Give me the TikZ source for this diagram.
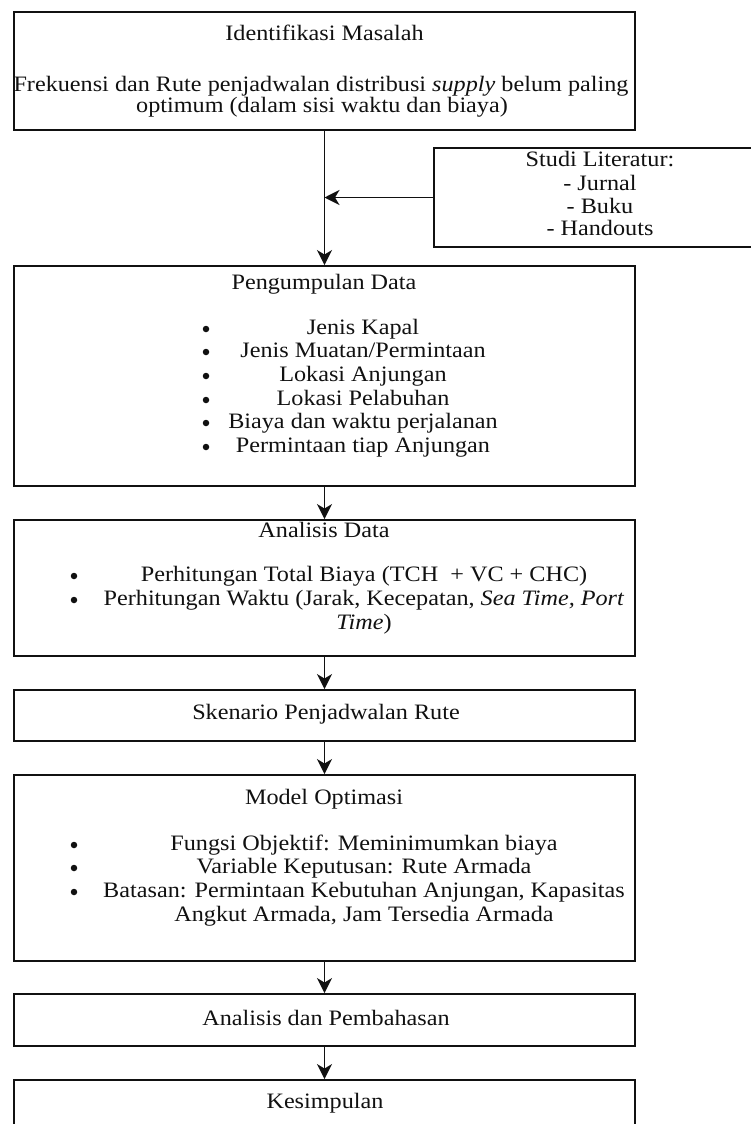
\documentclass[tikz,border=0pt]{standalone}
\usepackage{graphicx}
\usepackage{fontspec}
\setmainfont{Liberation Serif}
\usetikzlibrary{arrows.meta}
\definecolor{ink}{HTML}{111111}
% wide setting of the body text
\newcommand\wide[1]{\scalebox{1.1}[1]{#1}}
\tikzset{
  box/.style={draw=ink, line width=1.9pt, rectangle, inner sep=0pt, fill=white},
  txt/.style={inner sep=0pt, anchor=mid, text=ink, font=\fontsize{22}{23}\selectfont},
  dot/.style={circle, fill=ink, inner sep=0pt, minimum size=6.5pt},
  link/.style={draw=ink, line width=1.7pt, -{Stealth[length=15pt,width=15pt,inset=4.5pt]}},
}
\begin{document}
\begin{tikzpicture}[x=1pt,y=-1pt]
  \useasboundingbox (0,0) rectangle (751,1124);
  \clip (0,0) rectangle (751,1124);
  \fill[white] (0,0) rectangle (751,1124);

  % boxes
  \node[box, minimum width=621pt, minimum height=118pt] (b1) at (324.5,71) {};
  \node[box, minimum width=332pt, minimum height=99pt] (lit) at (600,197.5) {};
  \node[box, minimum width=621pt, minimum height=220pt] (b2) at (324.5,376) {};
  \node[box, minimum width=621pt, minimum height=136pt] (b3) at (324.5,588) {};
  \node[box, minimum width=621pt, minimum height=51pt] (b4) at (324.5,715.5) {};
  \node[box, minimum width=621pt, minimum height=186pt] (b5) at (324.5,868) {};
  \node[box, minimum width=621pt, minimum height=52pt] (b6) at (324.5,1020) {};
  \node[box, minimum width=621pt, minimum height=70pt] (b7) at (324.5,1115) {};

  % Identifikasi Masalah
  \node[txt] (t1) at (324.5,38) {\wide{Identifikasi Masalah}};
  \node[txt] (t1a) at (321,89) {\wide{Frekuensi dan Rute penjadwalan distribusi \textit{supply} belum paling}};
  \node[txt] (t1b) at (322,110) {\wide{optimum (dalam sisi waktu dan biaya)}};

  % Studi Literatur
  \node[txt] (l0) at (600,164) {\wide{Studi Literatur:}};
  \node[txt] (l1) at (600,188) {\wide{- Jurnal}};
  \node[txt] (l2) at (600,211) {\wide{- Buku}};
  \node[txt] (l3) at (600,233) {\wide{- Handouts}};

  % Pengumpulan Data
  \node[txt] (t2) at (324,287) {\wide{Pengumpulan Data}};
  \foreach \y/\s [count=\i] in {332/Jenis Kapal, 355/Jenis Muatan\slash Permintaan, 379/Lokasi Anjungan,
      403/Lokasi Pelabuhan, 426/Biaya dan waktu perjalanan, 450/Permintaan tiap Anjungan} {
    \node[dot] (d2\i) at (206,\y-3) {};
    \node[txt] (s2\i) at (363,\y) {\wide{\s}};
  }

  % Analisis Data
  \node[txt] (t3) at (324,535) {\wide{Analisis Data}};
  \node[dot] (d31) at (74,576) {};
  \node[txt] (s31) at (364,579) {\wide{Perhitungan Total Biaya (TCH\ \ + VC + CHC)}};
  \node[dot] (d32) at (74,600) {};
  \node[txt] (s32) at (364,603) {\wide{Perhitungan Waktu (Jarak, Kecepatan, \textit{Sea Time, Port}}};
  \node[txt] (s33) at (364,627) {\wide{\textit{Time})}};

  % Skenario
  \node[txt] (t4) at (326,717) {\wide{Skenario Penjadwalan Rute}};

  % Model Optimasi
  \node[txt] (t5) at (324,802) {\wide{Model Optimasi}};
  \node[dot] (d51) at (74,845) {};
  \node[txt] (s51) at (364,848) {\wide{Fungsi Objektif: Meminimumkan biaya}};
  \node[dot] (d52) at (74,868) {};
  \node[txt] (s52) at (364,871) {\wide{Variable Keputusan: Rute Armada}};
  \node[dot] (d53) at (74,892) {};
  \node[txt] (s53) at (364,895) {\wide{Batasan: Permintaan Kebutuhan Anjungan, Kapasitas}};
  \node[txt] (s54) at (364,919) {\wide{Angkut Armada, Jam Tersedia Armada}};

  % Analisis dan Pembahasan, Kesimpulan
  \node[txt] (t6) at (326,1023) {\wide{Analisis dan Pembahasan}};
  \node[txt] (t7) at (325,1106) {\wide{Kesimpulan}};

  % connectors
  \coordinate (join) at (b1.south |- lit.west);
  \draw[link] (b1.south) -- (b2.north);
  \draw[link] (lit.west) -- (join);
  \draw[link] (b2.south) -- (b3.north);
  \draw[link] (b3.south) -- (b4.north);
  \draw[link] (b4.south) -- (b5.north);
  \draw[link] (b5.south) -- (b6.north);
  \draw[link] (b6.south) -- (b7.north);
\end{tikzpicture}
\end{document}
